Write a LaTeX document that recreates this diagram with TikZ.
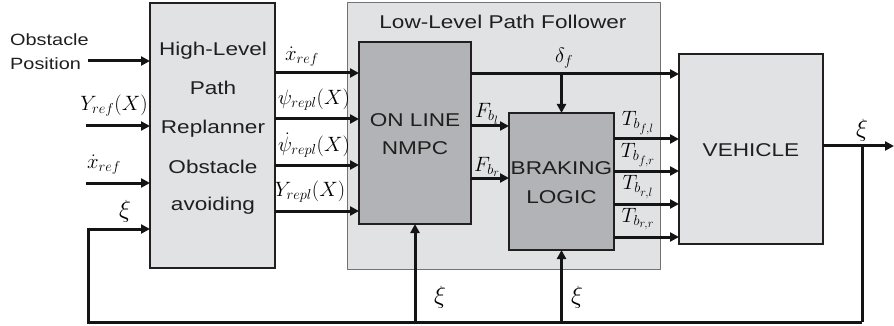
\documentclass[tikz,border=0pt]{standalone}
\usepackage{fontspec}
\setmainfont{Liberation Sans}[FakeStretch=1.22]
\usetikzlibrary{arrows.meta}
\definecolor{lightbox}{RGB}{225,226,228}
\definecolor{darkbox}{RGB}{178,179,182}
\definecolor{edgecol}{RGB}{35,31,32}
\begin{document}
\begin{tikzpicture}[x=1pt,y=-1pt,
  blk/.style={draw=edgecol, line width=1.6pt, fill=lightbox, inner sep=0pt, outer sep=0pt, anchor=north west},
  darkblk/.style={blk, fill=darkbox},
  groupblk/.style={blk, draw=black!55, line width=1pt},
  txt/.style={font=\fontsize{18.5}{22}\selectfont, inner sep=0pt, anchor=base, text=black!88},
  lbl/.style={font=\fontsize{20.74}{24}\selectfont, inner sep=0pt, text=black},
  xilbl/.style={lbl, font=\fontsize{24.88}{28}\selectfont},
  wire/.style={line width=3pt, draw=black!92, line join=miter},
  arr/.style={wire, -{Triangle[length=9pt,width=9pt]}}]
\useasboundingbox (0,0) rectangle (894,326);
% blocks
\node[blk, minimum width=125pt, minimum height=265pt] (hl) at (150,3) {};
\node[groupblk, minimum width=313pt, minimum height=266pt] (llf) at (347,3) {};
\node[darkblk, minimum width=112pt, minimum height=182pt] (nmpc) at (359,42) {};
\node[darkblk, minimum width=105pt, minimum height=137pt] (brake) at (509,113) {};
\node[blk, minimum width=144pt, minimum height=190pt] (veh) at (679,54) {};
% block texts
\node[txt] (t1) at (213,55.5) {High-Level};
\node[txt] (t2) at (213,94.5) {Path};
\node[txt] (t3) at (213,134) {Replanner};
\node[txt] (t4) at (213,173) {Obstacle};
\node[txt] (t5) at (213,210) {avoiding};
\node[txt] (title) at (503,28.5) {Low-Level Path Follower};
\node[txt] (n1) at (415,126.5) {ON LINE};
\node[txt] (n2) at (415,154.5) {NMPC};
\node[txt] (b1) at (561.5,174.5) {BRAKING};
\node[txt] (b2) at (561.5,203.5) {LOGIC};
\node[txt] (v1) at (751,156.5) {VEHICLE};
\node[txt, anchor=base west, font=\fontsize{16.3}{22}\selectfont] (obsa) at (10,46) {Obstacle};
\node[txt, anchor=base west, font=\fontsize{16.3}{22}\selectfont] (obsb) at (10,70) {Position};
% coordinates
\coordinate (obs) at (88,61);
\coordinate (yin) at (86,126);
\coordinate (xin) at (86,183);
\coordinate (fbl) at (88,229);
\coordinate (fbc) at (88,322);
\coordinate (fbr) at (862,322);
\coordinate (split) at (862,146);
\coordinate (out) at (894,146);
\coordinate (fb1) at (nmpc.south |- fbc);
\coordinate (fb2) at (brake.south |- fbc);
% inputs
\draw[arr] (obs) -- (hl.west |- obs);
\draw[arr] (yin) -- (hl.west |- yin);
\draw[arr] (xin) -- (hl.west |- xin);
\draw[arr] (fbr) -- (fbc) -- (fbl) -- (hl.west |- fbl);
% replanner outputs
\foreach \yy in {73,119,165,211}{
  \draw[arr] (hl.east |- 0,\yy) -- (nmpc.west |- 0,\yy);
}
% delta_f
\draw[arr] (nmpc.east |- 0,74) -- (veh.west |- 0,74);
\draw[arr] (brake.north |- 0,74) -- (brake.north);
% F_b
\draw[arr] (nmpc.east |- 0,126) -- (brake.west |- 0,126);
\draw[arr] (nmpc.east |- 0,178) -- (brake.west |- 0,178);
% T_b
\foreach \yy in {139,171,204,237}{
  \draw[arr] (brake.east |- 0,\yy) -- (veh.west |- 0,\yy);
}
% vehicle output and feedback
\draw[arr] (veh.east |- split) -- (out);
\draw[wire] (split) -- (fbr);
\draw[arr] (fb1) -- (nmpc.south);
\draw[arr] (fb2) -- (brake.south);
% math labels
\node[lbl] (l1) at (114,106) {$Y_{ref}(X)$};
\node[lbl] (l2) at (104,165) {$\dot{x}_{ref}$};
\node[xilbl] (l3) at (125,211) {$\xi$};
\node[lbl] (l4) at (302,57) {$\dot{x}_{ref}$};
\node[lbl] (l5) at (314,100) {$\psi_{repl}(X)$};
\node[lbl] (l6) at (314,145) {$\dot{\psi}_{repl}(X)$};
\node[lbl] (l7) at (310,192) {$Y_{repl}(X)$};
\node[lbl] (l8) at (564,58) {$\delta_f$};
\node[lbl] (l9) at (487,114) {$F_{b_l}$};
\node[lbl] (l10) at (487,167) {$F_{b_r}$};
\node[lbl] (l11) at (638,123) {$T_{b_{f,l}}$};
\node[lbl] (l12) at (638,155) {$T_{b_{f,r}}$};
\node[lbl] (l13) at (638,187) {$T_{b_{r,l}}$};
\node[lbl] (l14) at (638,219) {$T_{b_{r,r}}$};
\node[xilbl] (l15) at (440,297) {$\xi$};
\node[xilbl] (l16) at (577,297) {$\xi$};
\node[xilbl] (l17) at (862,130) {$\xi$};
\end{tikzpicture}
\end{document}
